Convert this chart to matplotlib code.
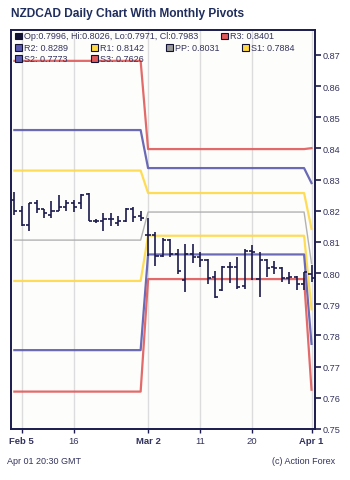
import matplotlib
matplotlib.use("Agg")
import matplotlib.pyplot as plt
import matplotlib.patches as mpatches
import pandas as pd
import numpy as np

# ---------------- data ----------------
dates = pd.bdate_range("2026-02-04", "2026-04-01")  # 41 trading days

opens = [0.8236, 0.8200, 0.8155, 0.8225, 0.8206, 0.8187, 0.8200, 0.8212, 0.8225, 0.8225,
         0.8254, 0.8167, 0.8167, 0.8174, 0.8161, 0.8167, 0.8206, 0.8183, 0.8123, 0.8123,
         0.8055, 0.8106, 0.8062, 0.7978, 0.8062, 0.8052, 0.8042, 0.7988, 0.7946, 0.8020,
         0.8020, 0.7959, 0.8071, 0.7981, 0.8042, 0.8020, 0.8017, 0.7985, 0.7988, 0.7965,
         0.7996]
highs = [0.8261, 0.8216, 0.8225, 0.8235, 0.8206, 0.8232, 0.8251, 0.8235, 0.8235, 0.8254,
         0.8256, 0.8174, 0.8193, 0.8193, 0.8183, 0.8209, 0.8212, 0.8200, 0.8177, 0.8132,
         0.8113, 0.8110, 0.8078, 0.8094, 0.8094, 0.8068, 0.8045, 0.8007, 0.8023, 0.8036,
         0.8052, 0.8078, 0.8090, 0.8068, 0.8045, 0.8039, 0.8020, 0.8004, 0.7990, 0.8004,
         0.8026]
lows = [0.8187, 0.8151, 0.8135, 0.8193, 0.8177, 0.8177, 0.8200, 0.8200, 0.8196, 0.8206,
        0.8167, 0.8161, 0.8135, 0.8151, 0.8151, 0.8164, 0.8164, 0.8167, 0.8055, 0.8023,
        0.8052, 0.8052, 0.7997, 0.7940, 0.8033, 0.8020, 0.7965, 0.7920, 0.7943, 0.7969,
        0.7949, 0.7950, 0.7978, 0.7924, 0.7988, 0.7997, 0.7972, 0.7965, 0.7946, 0.7946,
        0.7971]
closes = [0.8200, 0.8155, 0.8225, 0.8206, 0.8193, 0.8200, 0.8212, 0.8225, 0.8212, 0.8251,
          0.8167, 0.8167, 0.8174, 0.8174, 0.8167, 0.8206, 0.8180, 0.8177, 0.8123, 0.8055,
          0.8106, 0.8062, 0.8007, 0.8062, 0.8052, 0.8042, 0.7985, 0.7924, 0.8020, 0.8020,
          0.7956, 0.8071, 0.8068, 0.8042, 0.8017, 0.8017, 0.7985, 0.7988, 0.7965, 0.8004,
          0.7983]

# monthly pivot levels: February, March, April
level_names = ["R3", "R2", "R1", "PP", "S1", "S2", "S3"]
piv_feb = [0.8681, 0.8459, 0.8329, 0.8106, 0.7975, 0.7753, 0.7620]
piv_mar = [0.8398, 0.8337, 0.8257, 0.8196, 0.8120, 0.8060, 0.7981]
piv_apr = [0.8401, 0.8289, 0.8142, 0.8031, 0.7884, 0.7773, 0.7626]
month_of_bar = [d.month for d in dates]

tick_dates = ["2026-02-05", "2026-02-16", "2026-03-02", "2026-03-11", "2026-03-20", "2026-04-01"]
tick_labels = ["Feb 5", "16", "Mar 2", "11", "20", "Apr 1"]
tick_bold = [True, False, True, False, False, True]

yticks = [0.75, 0.76, 0.77, 0.78, 0.79, 0.80, 0.81, 0.82, 0.83, 0.84, 0.85, 0.86, 0.87]

# ---------------- style ----------------
W, H = 350, 481
DPI = 100
NAVY = "#1b1b4d"
TEXT = "#33335f"
FONT = ["Liberation Sans", "DejaVu Sans"]
plt.rcParams["font.family"] = FONT

level_colors = {"R3": "#e05a5a", "R2": "#5a5ab0", "R1": "#ffd945", "PP": "#aaaaaa",
                "S1": "#ffd945", "S2": "#5a5ab0", "S3": "#e05a5a"}
level_widths = {"R3": 1.6, "R2": 1.6, "R1": 1.6, "PP": 1.0,
                "S1": 1.6, "S2": 1.6, "S3": 1.6}

fig = plt.figure(figsize=(W / DPI, H / DPI), dpi=DPI)
fig.patch.set_facecolor("white")

L, R, T, B = 11, 315, 31, 430
ax = fig.add_axes([L / W, 1 - B / H, (R - L) / W, (B - T) / H])
ax.set_facecolor("#fdfdfb")

n = len(dates)
x = np.arange(n)

# pivot lines
piv_by_month = {2: piv_feb, 3: piv_mar, 4: piv_apr}
for k, name in enumerate(level_names):
    vals = [piv_by_month[m][k] for m in month_of_bar]
    ax.plot(x, vals, color=level_colors[name], lw=level_widths[name], alpha=0.9,
            solid_joinstyle="round", zorder=2)

# OHLC bars
tw = 0.42
ax.vlines(x, lows, highs, color=NAVY, lw=1.2, zorder=4)
ax.hlines(opens, x - tw, x, color=NAVY, lw=1.2, zorder=4)
ax.hlines(closes, x, x + tw, color=NAVY, lw=1.2, zorder=4)

# axes
ax.set_xlim(-0.45, n - 1 + 0.47)
ax.set_ylim(0.75, 0.878)
date_strs = [d.strftime("%Y-%m-%d") for d in dates]
tick_pos = [date_strs.index(t) for t in tick_dates]
ax.set_xticks(tick_pos)
ax.set_xticklabels(tick_labels)
for lab, b in zip(ax.get_xticklabels(), tick_bold):
    lab.set_fontweight("bold" if b else "normal")
    lab.set_color(TEXT)
    lab.set_fontsize(6.8)
ax.grid(axis="x", color="#dcdcdc", lw=1.0, zorder=0)
ax.tick_params(axis="x", direction="out", length=3, width=1.0, color=NAVY, pad=2)

ax.yaxis.tick_right()
ax.set_yticks(yticks)
ax.set_yticklabels([f"{v:.2f}" for v in yticks])
ax.tick_params(axis="y", direction="out", length=4, width=1.2, color=NAVY,
               labelsize=6.6, labelcolor=TEXT, pad=1.5)

for sp in ax.spines.values():
    sp.set_color(NAVY)
    sp.set_linewidth(1.4)

# title
fig.text(11 / W, 1 - 14 / H, "NZDCAD Daily Chart With Monthly Pivots", fontsize=8.6,
         fontweight="bold", color="#1f2d5c", va="center", ha="left")

# legend inside plot
def px(xp, yp):
    return xp / W, 1 - yp / H

def legend_item(xb, yc, color, text):
    s = 6.5
    fx, fy = px(xb, yc + s / 2)
    fig.add_artist(mpatches.Rectangle((fx, fy), s / W, s / H, transform=fig.transFigure,
                                      facecolor=color, edgecolor="#111133", lw=0.8, zorder=10))
    tx, ty = px(xb + 9, yc)
    fig.text(tx, ty, text, fontsize=6.5, color=TEXT, va="center", ha="left", zorder=10)

legend_item(15, 37, "#111133", "Op:%.4f, Hi:%.4f, Lo:%.4f, Cl:%.4f" % (opens[-1], highs[-1], lows[-1], closes[-1]))
legend_item(221, 37, level_colors["R3"], "R3: %.4f" % piv_apr[0])
legend_item(15, 48.3, level_colors["R2"], "R2: %.4f" % piv_apr[1])
legend_item(91, 48.3, level_colors["R1"], "R1: %.4f" % piv_apr[2])
legend_item(166, 48.3, "#999999", "PP: %.4f" % piv_apr[3])
legend_item(242, 48.3, level_colors["S1"], "S1: %.4f" % piv_apr[4])
legend_item(15, 59.3, level_colors["S2"], "S2: %.4f" % piv_apr[5])
legend_item(91, 59.3, level_colors["S3"], "S3: %.4f" % piv_apr[6])

# footer
fx, fy = px(7, 462)
fig.text(fx, fy, "Apr 01 20:30 GMT", fontsize=6.5, color=TEXT, va="center", ha="left")
fx, fy = px(335, 462)
fig.text(fx, fy, "(c) Action Forex", fontsize=6.5, color=TEXT, va="center", ha="right")

fig.savefig("out.png", dpi=DPI)
